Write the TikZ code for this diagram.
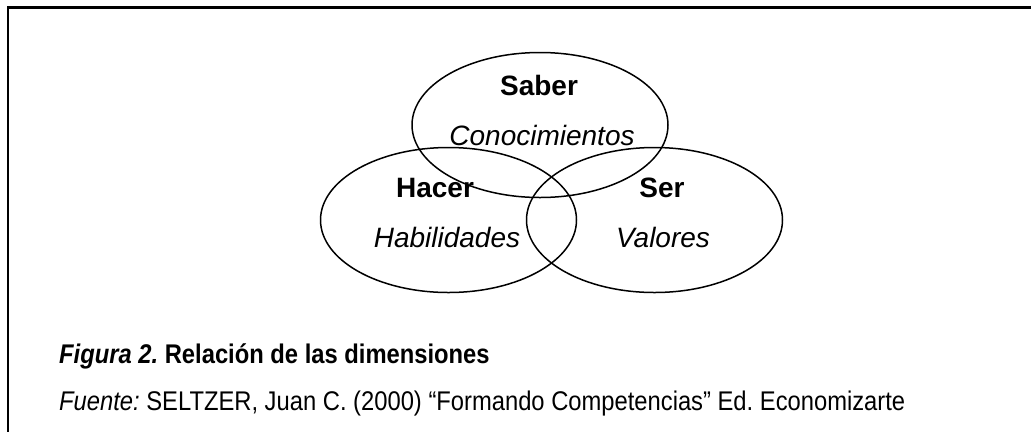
\documentclass[tikz,border=0pt]{standalone}
\usepackage{fontspec}
\setmainfont{Liberation Sans}
\newfontfamily\narrowfont[FakeStretch=0.88]{Liberation Sans}
\usetikzlibrary{shapes.geometric}
\frenchspacing
\tikzset{
  venn/.style={ellipse, draw, line width=1.5pt, minimum width=256pt, minimum height=145pt, inner sep=0pt},
  bigtext/.style={anchor=base, inner sep=0pt, font=\fontsize{28}{34}\selectfont},
  captext/.style={anchor=base west, inner sep=0pt, font=\narrowfont\fontsize{27}{32}\selectfont},
}
\begin{document}
\begin{tikzpicture}[x=1pt,y=-1pt]
\useasboundingbox (0,0) rectangle (1031,432);
\fill[white] (0,0) rectangle (1031,432);
\coordinate (fr1) at (1031,7.5);
\coordinate (fr2) at (8,7.5);
\coordinate (fr3) at (8,432);
\draw[line width=2.6pt] (fr1) -- (fr2) -- (fr3);
\node[venn] (saber) at (540,125) {};
\node[venn] (hacer) at (448.5,220) {};
\node[venn] (ser) at (654.5,220) {};
\node[bigtext] (t1) at (539,95) {\bfseries Saber};
\node[bigtext] (t2) at (542,145) {\itshape Conocimientos};
\node[bigtext] (t3) at (435,197) {\bfseries Hacer};
\node[bigtext] (t4) at (447,247) {\itshape Habilidades};
\node[bigtext] (t5) at (662,197) {\bfseries Ser};
\node[bigtext] (t6) at (663,247) {\itshape Valores};
\node[captext] (c1) at (59,363) {\textbf{\textit{Figura 2.}} \textbf{Relación de las dimensiones}};
\node[captext] (c2) at (59,410) {\textit{Fuente:} SELTZER, Juan C. (2000) “Formando Competencias” Ed. Economizarte};
\end{tikzpicture}
\end{document}
